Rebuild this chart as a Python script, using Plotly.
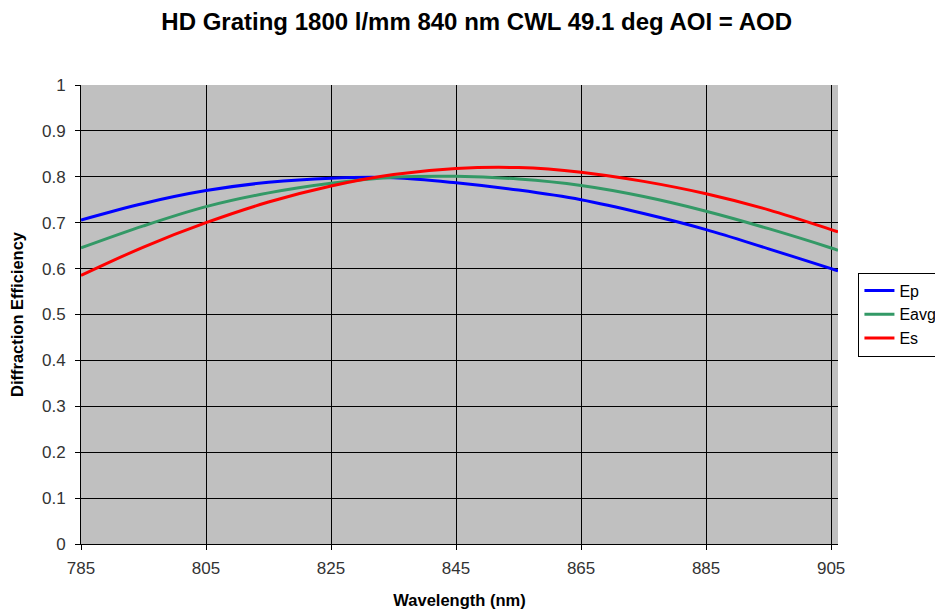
import plotly.graph_objects as go

wavelength = [785, 795, 805, 815, 825, 835, 845, 855, 865, 875, 885, 895, 905, 906.1]
ep = [0.706, 0.742, 0.770, 0.788, 0.797, 0.798, 0.787, 0.771, 0.750, 0.720, 0.685, 0.643, 0.600, 0.595]
eavg = [0.645, 0.693, 0.735, 0.765, 0.786, 0.799, 0.801, 0.795, 0.781, 0.757, 0.725, 0.687, 0.645, 0.640]
es = [0.585, 0.647, 0.700, 0.745, 0.780, 0.805, 0.818, 0.820, 0.810, 0.790, 0.763, 0.728, 0.685, 0.680]

x_ticks = [785, 805, 825, 845, 865, 885, 905]
y_ticks = [0, 0.1, 0.2, 0.3, 0.4, 0.5, 0.6, 0.7, 0.8, 0.9, 1]

FONT = "Liberation Sans, Arial, sans-serif"

fig = go.Figure()
for name, ys, color in [("Ep", ep, "#0000FF"), ("Eavg", eavg, "#339966"), ("Es", es, "#FF0000")]:
    fig.add_trace(go.Scatter(x=wavelength, y=ys, name=name, mode="lines",
                             line=dict(color=color, width=3, shape="spline")))

fig.update_layout(
    width=943, height=610,
    margin=dict(l=73, r=113, t=77, b=74, autoexpand=False),
    paper_bgcolor="white",
    plot_bgcolor="#C0C0C0",
    font=dict(family=FONT, size=17, color="#333333"),
    title=dict(text="<b>HD Grating 1800 l/mm 840 nm CWL 49.1 deg AOI = AOD</b>",
               x=0.497, xanchor="center", y=0.977, yanchor="middle",
               font=dict(size=24, color="black", family=FONT)),
    legend=dict(x=1.027, y=0.50, xanchor="left", yanchor="middle",
                bordercolor="black", borderwidth=1, bgcolor="white",
                font=dict(size=16, family=FONT, color="black"),
                tracegroupgap=0, itemwidth=30),
    showlegend=True,
)
fig.update_xaxes(range=[785, 906.1], tickvals=x_ticks, ticktext=[str(v) for v in x_ticks],
                 showgrid=True, gridcolor="black", gridwidth=1, automargin=False,
                 showline=True, linecolor="black", linewidth=1, mirror=False,
                 ticks="outside", ticklen=5, tickcolor="black", ticklabelstandoff=4,
                 zeroline=False,
                 title=dict(text="<b>Wavelength (nm)</b>", font=dict(size=16.5, color="black"), standoff=17))
fig.update_yaxes(range=[0, 1], tickvals=y_ticks, ticktext=["0", "0.1", "0.2", "0.3", "0.4", "0.5", "0.6", "0.7", "0.8", "0.9", "1"],
                 showgrid=True, gridcolor="black", gridwidth=1, automargin=False,
                 showline=True, linecolor="black", linewidth=1,
                 ticks="outside", ticklen=5, tickcolor="black", ticklabelstandoff=6,
                 zeroline=False,
                 title=dict(text="<b>Diffraction Efficiency</b>", font=dict(size=16.5, color="black"), standoff=22))

fig.write_html("out.html")
